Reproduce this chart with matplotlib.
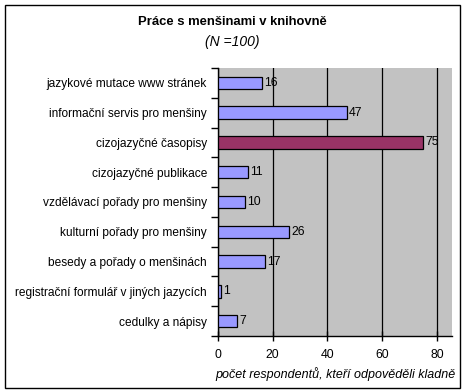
import matplotlib
matplotlib.use("Agg")
import matplotlib.pyplot as plt
from matplotlib.patches import Rectangle

categories = ["jazykové mutace www stránek", "informační servis pro menšiny",
              "cizojazyčné časopisy", "cizojazyčné publikace",
              "vzdělávací pořady pro menšiny", "kulturní pořady pro menšiny",
              "besedy a pořady o menšinách", "registrační formulář v jiných jazycích",
              "cedulky a nápisy"]
values = [16, 47, 75, 11, 10, 26, 17, 1, 7]
highlight = "cizojazyčné časopisy"
xticks = [0, 20, 40, 60, 80]

plt.rcParams['font.family'] = ['Liberation Sans', 'DejaVu Sans']
W, H = 466, 392
fig = plt.figure(figsize=(W/100, H/100), dpi=100)
fig.patch.set_facecolor('white')

# outer border
fig.add_artist(Rectangle((5/W, 1 - 388/H), 455/W, 383/H, transform=fig.transFigure,
                         fill=False, edgecolor='black', linewidth=1.0))

left, right, top, bottom = 218, 452, 68, 336
ax = fig.add_axes([left/W, 1 - bottom/H, (right-left)/W, (bottom-top)/H])
ax.set_facecolor('#c2c2c2')

n = len(categories)
ypos = list(range(n))
colors = ['#993366' if c == highlight else '#9999ff' for c in categories]
ax.barh(ypos, values, height=0.42, color=colors, edgecolor='black', linewidth=0.9, zorder=3)
for y, v in zip(ypos, values):
    ax.text(v + 0.8, y, str(v), va='center', ha='left', fontsize=8.8, zorder=4)

ax.set_xlim(0, 85.5)
ax.set_ylim(n - 0.5, -0.5)
ax.set_xticks(xticks)
ax.set_xticklabels([str(t) for t in xticks], fontsize=8.8)
ax.tick_params(axis='x', direction='inout', length=7, width=1, pad=6)
ax.grid(axis='x', color='black', linewidth=0.9, zorder=1)

ax.set_yticks(ypos)
ax.set_yticklabels(categories, fontsize=8.6)
ax.tick_params(axis='y', length=0, pad=8)
ax.set_yticks([i - 0.5 for i in range(n + 1)], minor=True)
ax.tick_params(axis='y', which='minor', direction='out', length=5, width=1)

for s in ['top', 'right']:
    ax.spines[s].set_visible(False)
ax.spines['left'].set_linewidth(1)
ax.spines['bottom'].set_linewidth(1)

ax.set_xlabel("počet respondentů, kteří odpověděli kladně", fontsize=9,
              style='italic', labelpad=4)

fig.text(0.5 * (5 + 460) / W, 1 - 22/H, "Práce s menšinami v knihovně", ha='center',
         va='center', fontsize=9.4, fontweight='bold')
fig.text(0.5 * (5 + 460) / W, 1 - 42/H, "(N =100)", ha='center', va='center',
         fontsize=10, style='italic')

fig.savefig("out.png", dpi=100)
